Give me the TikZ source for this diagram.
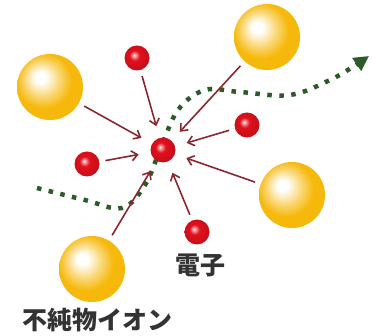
\documentclass[tikz,border=0pt]{standalone}
\usepackage{fontspec}
\newfontfamily\jpfont{Noto Sans CJK JP}
\usetikzlibrary{arrows.meta}
\definecolor{iongold}{HTML}{F6B80A}
\definecolor{elred}{HTML}{E2101C}
\definecolor{pullred}{HTML}{8A2830}
\definecolor{pathgreen}{HTML}{2E5A2A}
\pgfdeclareradialshading{ionshade}{\pgfpoint{-8bp}{8bp}}{color(0bp)=(white); color(4bp)=(white); color(13bp)=(iongold!55!white); color(21bp)=(iongold); color(50bp)=(iongold)}
\pgfdeclareradialshading{elshade}{\pgfpoint{-6bp}{6bp}}{color(0bp)=(white); color(2bp)=(elred!30!white); color(10bp)=(elred); color(30bp)=(elred!85!black); color(50bp)=(elred!85!black)}
\begin{document}
\begin{tikzpicture}[x=1pt,y=-1pt]
      \tikzstyle{ion} = [circle, inner sep=0pt, minimum size=66pt, shading=ionshade]
        \tikzstyle{electron} = [circle, inner sep=0pt, minimum size=25pt, shading=elshade]
        \tikzstyle{pull} = [draw=pullred, line width=1.6pt, shorten >=12pt, shorten <=6pt, -{Straight Barb[length=6pt,width=10pt]}]
        \tikzstyle{label} = [font=\jpfont\bfseries\fontsize{25pt}{25pt}\selectfont, text=black!80]
          \useasboundingbox (0,0) rectangle (372,336);
          % scattering path
          \draw[pathgreen, line width=4.5pt, dash pattern=on 4.5pt off 7.5pt]
            plot[smooth, tension=0.6] coordinates {(37,188) (85,200) (122,208) (145,185) (160,150)
              (178,110) (205,90) (240,92) (290,95) (330,80) (354,66)};
          \coordinate (pathend) at (356,65);
          \coordinate (pathtip) at (369,56);
          \draw[pathgreen, line width=4.5pt, -{Triangle[length=15pt,width=15pt]}] (pathend) -- (pathtip);
          \node[ion] (ionA) at (50,87) {};
          \node[ion] (ionB) at (267,37) {};
          \node[ion] (ionC) at (292,195) {};
          \node[ion] (ionD) at (92,269) {};
          \node[electron] (e) at (163,150) {};
          \node[electron] (e1) at (137,58) {};
          \node[electron] (e2) at (247,125) {};
          \node[electron] (e3) at (87,164) {};
          \node[electron] (e4) at (197,232) {};
          \foreach \src in {ionA,ionB,ionC,ionD,e1,e2,e3,e4}
            \draw[pull] (\src) -- (e);
          \node[label] (elabel) at (200,265) {電子};
          \node[label] (ionlabel) at (97,320) {不純物イオン};
        \end{tikzpicture}
\end{document}
